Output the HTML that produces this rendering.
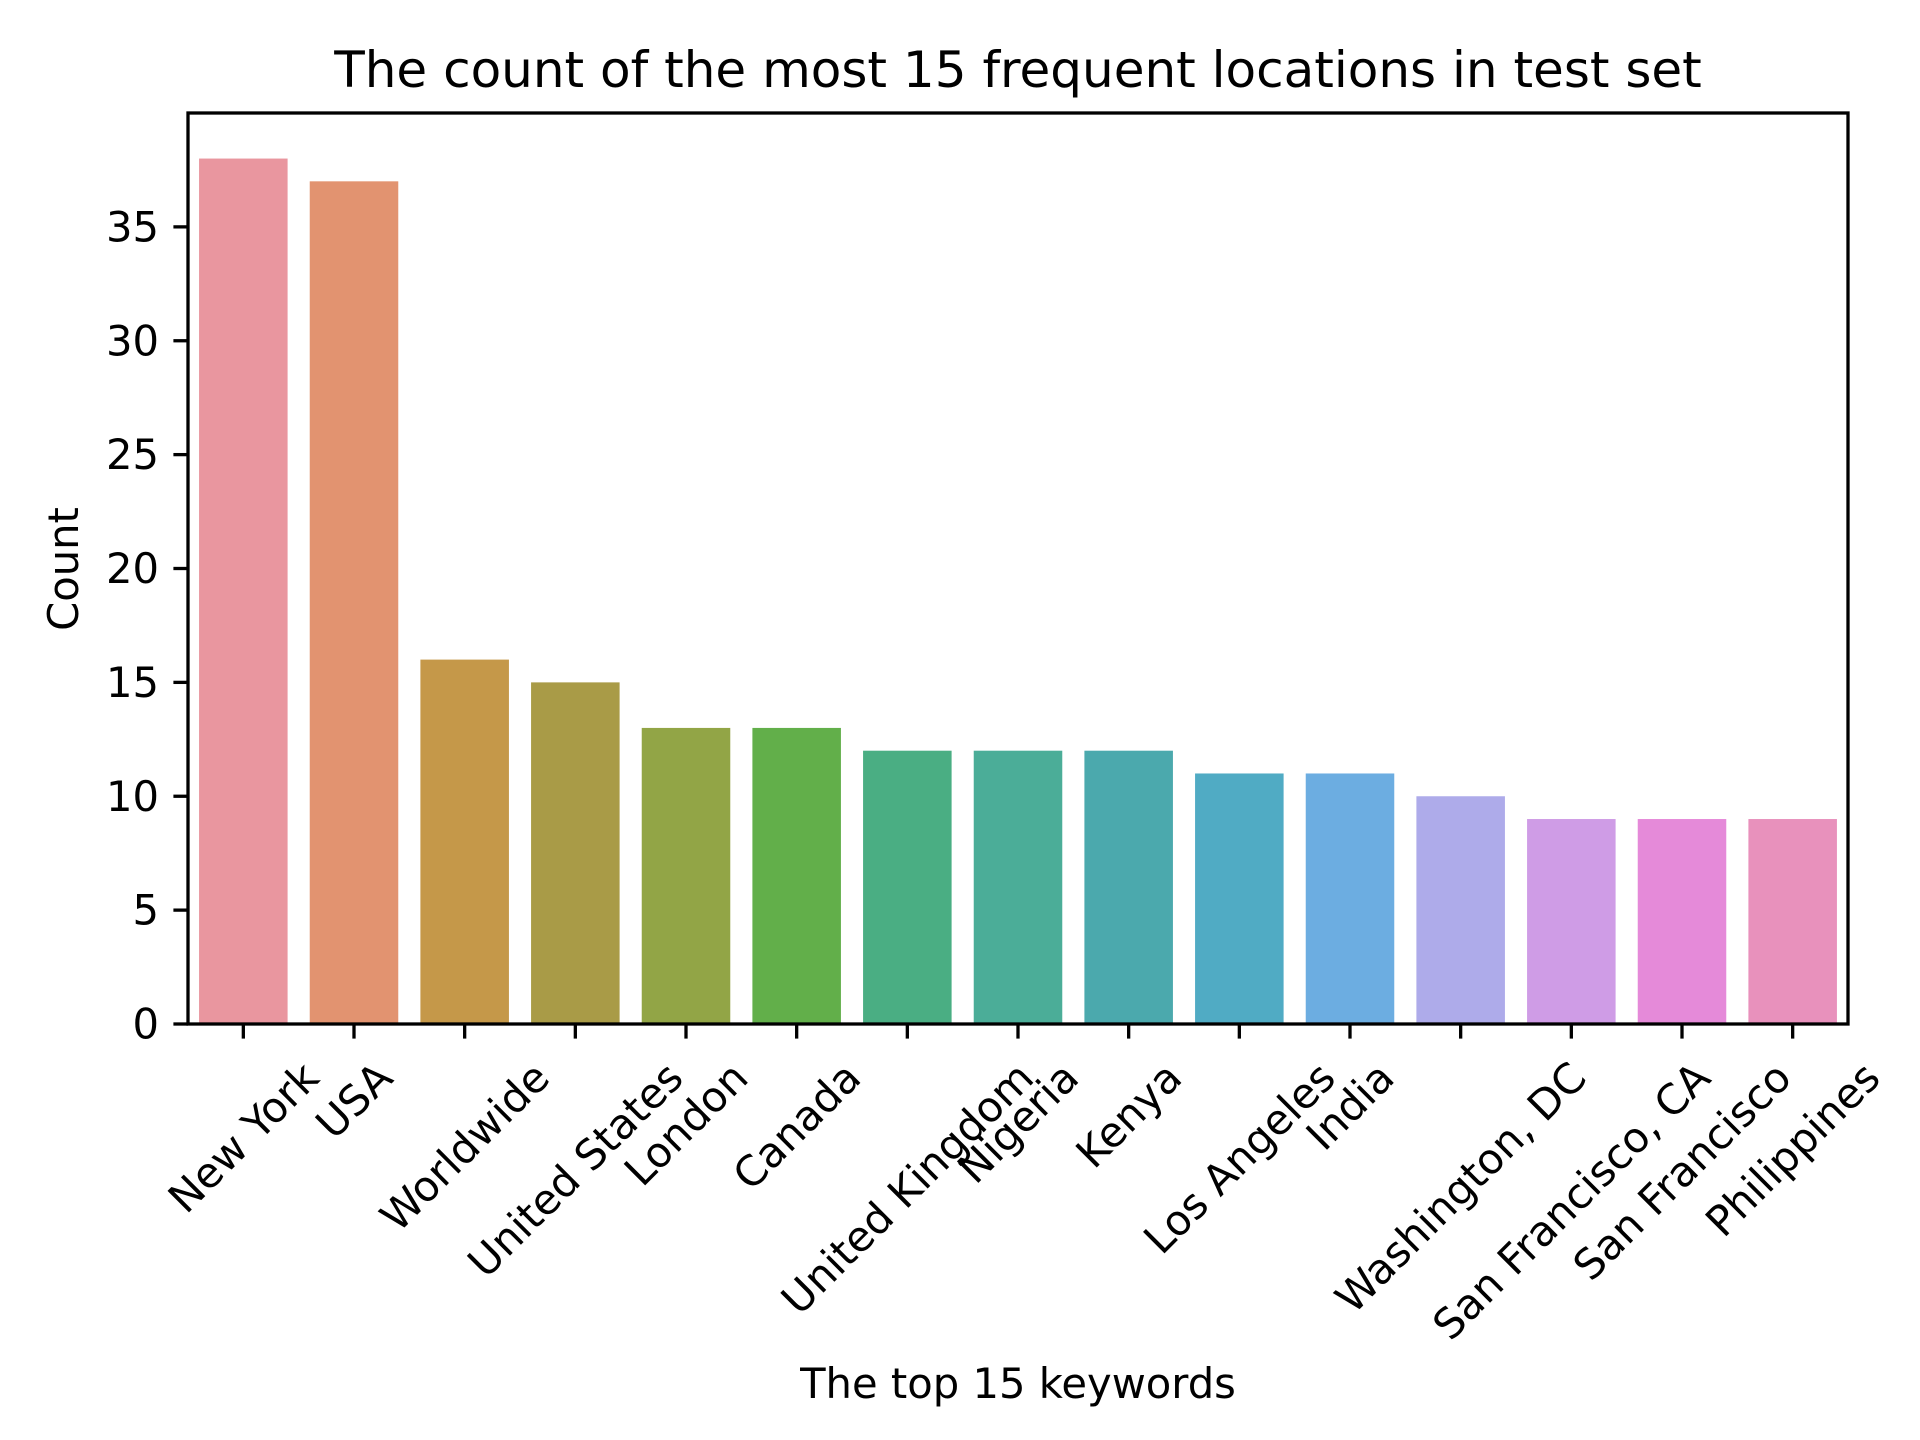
<!DOCTYPE html>
<html><head><meta charset="utf-8"><style>
html,body{margin:0;padding:0;background:#fff}
svg{display:block;font-family:"DejaVu Sans","Liberation Sans",sans-serif}
</style></head><body>
<svg id="chart" width="1920" height="1440" viewBox="0 0 1920 1440" xmlns="http://www.w3.org/2000/svg">
<rect x="0" y="0" width="1920" height="1440" fill="#fff"/>
<text x="1018" y="87" text-anchor="middle" font-size="50" fill="#000">The count of the most 15 frequent locations in test set</text>
<text transform="translate(78,569) rotate(-90)" text-anchor="middle" font-size="41.7" fill="#000">Count</text>
<text x="1018" y="1398" text-anchor="middle" font-size="41.7" fill="#000">The top 15 keywords</text>
<g id="bars"></g><g id="yticks"></g><g id="xticks"></g>
<rect x="188" y="113" width="1660" height="911" fill="none" stroke="#000" stroke-width="3.3"/>
</svg>
<script>
const categories=["New York","USA","Worldwide","United States","London","Canada","United Kingdom","Nigeria","Kenya","Los Angeles","India","Washington, DC","San Francisco, CA","San Francisco","Philippines"];
const counts=[38,37,16,15,13,13,12,12,12,11,11,10,9,9,9];
const colors=["#e9969f","#e29370","#c59849","#a99b47","#92a546","#62af4a","#4aae83","#4bad98","#4ba9ad","#50abc4","#6cade1","#aeabea","#cf9ce6","#e58ad9","#e891bc"];
const yTicks=[0,5,10,15,20,25,30,35];
const NS="http://www.w3.org/2000/svg";
const L=188,R=1848,T=113,B=1024,YMAX=40;
const n=categories.length;
function xs(i){return L+(i+0.5)*(R-L)/n;}
function ys(v){return B-v*(B-T)/YMAX;}
function mk(tag,attrs,parent){const e=document.createElementNS(NS,tag);for(const k in attrs)e.setAttribute(k,attrs[k]);parent.appendChild(e);return e;}
const bw=0.8*(R-L)/n;
const gb=document.getElementById('bars'),gy=document.getElementById('yticks'),gx=document.getElementById('xticks');
counts.forEach((v,i)=>{
  const r=mk('rect',{x:xs(i)-bw/2,y:ys(v),width:bw,height:B-ys(v),fill:colors[i]},gb);
  
  
});
yTicks.forEach(t=>{
  const ln=mk('line',{x1:L-14.6,x2:L,y1:ys(t),y2:ys(t),stroke:'#000','stroke-width':3.3},gy);
  
  
  const tx=mk('text',{x:L-29,y:ys(t),'text-anchor':'end','dominant-baseline':'central','font-size':41.7,fill:'#000'},gy);
  tx.textContent=t;
  
  
});
categories.forEach((c,i)=>{
  const x=xs(i);
  const ln=mk('line',{x1:x,x2:x,y1:B,y2:B+14.6,stroke:'#000','stroke-width':3.3},gx);
  
  
  const tx=mk('text',{'text-anchor':'middle','dominant-baseline':'central','font-size':41.7,fill:'#000'},gx);
  tx.textContent=c;
  
  
  const w=tx.getComputedTextLength(),h=48;
  const half=(w+h)*0.7071/2;
  tx.setAttribute('transform','translate('+x+','+(B+29+half)+') rotate(-45)');
});
</script>
</body></html>
